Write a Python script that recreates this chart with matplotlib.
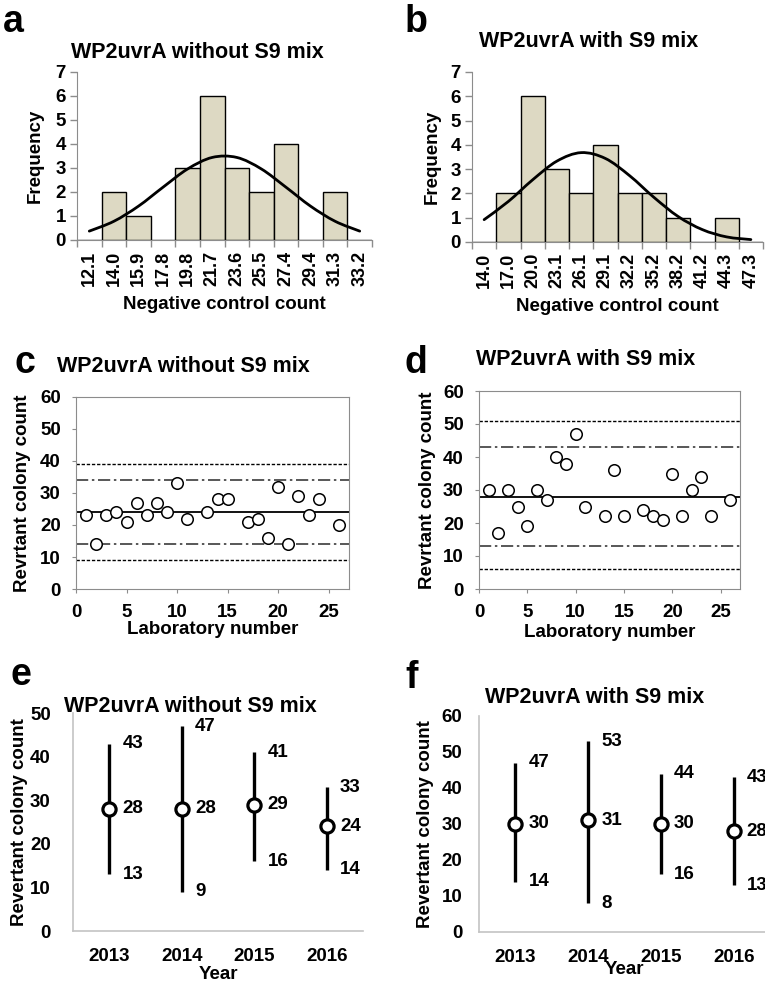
import matplotlib

matplotlib.use("Agg")
import matplotlib.pyplot as plt
from matplotlib.path import Path
from matplotlib.patches import PathPatch
from matplotlib.ticker import FixedLocator, NullFormatter, FixedFormatter

W, H = 765, 990

# --- (a) / (b) histograms of negative control counts -------------------
BINS_A = ["12.1", "14.0", "15.9", "17.8", "19.8", "21.7",
          "23.6", "25.5", "27.4", "29.4", "31.3", "33.2"]
FREQ_A = [0, 2, 1, 0, 3, 6, 3, 2, 4, 0, 2, 0]
CURVE_A = [0.37, 0.78, 1.41, 2.20, 2.96, 3.44, 3.44, 2.96, 2.20, 1.41, 0.78, 0.37]

BINS_B = ["14.0", "17.0", "20.0", "23.1", "26.1", "29.1",
          "32.2", "35.2", "38.2", "41.2", "44.3", "47.3"]
FREQ_B = [0, 2, 6, 3, 2, 4, 2, 2, 1, 0, 1, 0]
CURVE_B = [0.92, 1.67, 2.56, 3.33, 3.68, 3.44, 2.73, 1.84, 1.05, 0.51, 0.21, 0.10]

# --- (c) / (d) revertant counts by laboratory -------------------------
LABS = [1, 2, 3, 4, 5, 6, 7, 8, 9, 10, 11, 13, 14, 15, 17, 18, 19, 20, 21, 22, 23, 24, 26]
COUNT_C = [23, 14, 23, 24, 21, 27, 23, 27, 24, 33, 22, 24, 28, 28, 21, 22, 16, 32, 14, 29, 23, 28, 20]
COUNT_D = [30, 17, 30, 25, 19, 30, 27, 40, 38, 47, 25, 22, 36, 22, 24, 22, 21, 35, 22, 30, 34, 22, 27]
MEAN_C, SD2_C, SD3_C = 24, (14, 34), (9, 39)
MEAN_D, SD2_D, SD3_D = 28, (13, 43), (6, 51)

# --- (e) / (f) yearly mean and range ------------------------------------
YEARS = ["2013", "2014", "2015", "2016"]
MEAN_E = [28, 28, 29, 24]
LOW_E = [13, 9, 16, 14]
HIGH_E = [43, 47, 41, 33]
MEAN_F = [30, 31, 30, 28]
LOW_F = [14, 8, 16, 13]
HIGH_F = [47, 53, 44, 43]

plt.rcParams["font.family"] = ["Liberation Sans", "DejaVu Sans"]
plt.rcParams["font.weight"] = "bold"
plt.rcParams["axes.labelweight"] = "bold"

GRAY = "#8c8c8c"
LIGHT = "#c4c4c4"
TITLE_SIZE = 15.5
LETTER_SIZE = 27


def add_axes(fig, left, top, right, bottom):
    return fig.add_axes([left / W, 1 - bottom / H, (right - left) / W, (bottom - top) / H])


def ylabel_at(fig, ax, text, x_px, y_px, size=13.5):
    ax.set_ylabel(text, fontsize=size, va="center")
    ax.yaxis.set_label_coords(x_px / W, 1 - y_px / H, transform=fig.transFigure)


def xlabel_at(fig, ax, text, x_px, top_px, size=13.5):
    ax.set_xlabel(text, fontsize=size, va="top")
    ax.xaxis.set_label_coords(x_px / W, 1 - top_px / H, transform=fig.transFigure)


def headings(fig, title, title_xy, letter_xy):
    fig.text(title_xy[0] / W, 1 - title_xy[1] / H, title, ha="center", va="baseline",
             fontsize=TITLE_SIZE, fontweight="bold")
    fig.text(letter_xy[0] / W, 1 - letter_xy[1] / H, letter_xy[2], ha="left", va="baseline",
             fontsize=LETTER_SIZE, fontweight="bold")


def smooth_curve(ax, xs, ys, **kw):
    # Excel-like smoothed line: Catmull-Rom segments drawn as cubic Beziers
    pts = list(zip(xs, ys))
    verts = [pts[0]]
    codes = [Path.MOVETO]
    n = len(pts)
    for i in range(n - 1):
        p0 = pts[max(i - 1, 0)]
        p1 = pts[i]
        p2 = pts[i + 1]
        p3 = pts[min(i + 2, n - 1)]
        c1 = (p1[0] + (p2[0] - p0[0]) / 6, p1[1] + (p2[1] - p0[1]) / 6)
        c2 = (p2[0] - (p3[0] - p1[0]) / 6, p2[1] - (p3[1] - p1[1]) / 6)
        verts += [c1, c2, p2]
        codes += [Path.CURVE4] * 3
    ax.add_patch(PathPatch(Path(verts, codes), fill=False, **kw))


def histogram(fig, box, bins, freq, curve, title, title_xy, letter_xy, ylab_x, xlab_top):
    ax = add_axes(fig, *box)
    x = list(range(len(bins)))
    ax.bar(x, freq, width=1.0, color="#ddd9c3", edgecolor="black", linewidth=1.0, zorder=2)
    smooth_curve(ax, x, curve, color="black", linewidth=2.0, zorder=3, capstyle="round")
    ax.set_xlim(-0.5, len(bins) - 0.5)
    ax.set_ylim(0, 7)
    ax.set_yticks(range(0, 8))
    ax.xaxis.set_major_locator(FixedLocator([i - 0.5 for i in range(len(bins) + 1)]))
    ax.xaxis.set_major_formatter(NullFormatter())
    ax.xaxis.set_minor_locator(FixedLocator(x))
    ax.xaxis.set_minor_formatter(FixedFormatter(bins))
    ax.tick_params(axis="x", which="major", length=5, color=GRAY, width=1)
    ax.tick_params(axis="x", which="minor", length=0, pad=8, labelsize=13, labelrotation=90)
    ax.tick_params(axis="y", length=5, color=GRAY, width=1, labelsize=13.5, pad=3)
    for s in ("top", "right"):
        ax.spines[s].set_visible(False)
    for s in ("left", "bottom"):
        ax.spines[s].set_color(GRAY)
    headings(fig, title, title_xy, letter_xy)
    ylabel_at(fig, ax, "Frequency", ylab_x, (box[1] + box[3]) / 2)
    xlabel_at(fig, ax, "Negative control count", (box[0] + box[2]) / 2, xlab_top)
    return ax


def lab_scatter(fig, box, counts, mean, sd2, sd3, title, title_xy, letter_xy, ylab_x, xlab_top):
    ax = add_axes(fig, *box)
    ax.axhline(mean, color="black", linewidth=1.3, zorder=1)
    for v in sd2:
        ax.axhline(v, color="#2a2a2a", linewidth=1.1, linestyle=(0, (8, 2.4, 1.6, 2.4)), zorder=1)
    for v in sd3:
        ax.axhline(v, color="black", linewidth=1.0, linestyle=(0, (2.4, 1.3)), zorder=1)
    ax.plot(LABS, counts, linestyle="none", marker="o", markersize=8.3,
            markerfacecolor="white", markeredgecolor="black", markeredgewidth=1.1, zorder=3)
    ax.set_xlim(0, 27)
    ax.set_ylim(0, 60)
    ax.set_xticks(range(0, 26, 5))
    ax.set_yticks(range(0, 61, 10))
    ax.tick_params(length=3, color=GRAY, labelsize=13.5, pad=8)
    for s in ax.spines.values():
        s.set_color(GRAY)
    headings(fig, title, title_xy, letter_xy)
    ylabel_at(fig, ax, "Revrtant colony count", ylab_x, (box[1] + box[3]) / 2)
    xlabel_at(fig, ax, "Laboratory number", (box[0] + box[2]) / 2, xlab_top)
    return ax


def year_range(fig, box, means, lows, highs, ymax, title, title_xy, letter_xy, ylab_x, xlab_top, pad):
    ax = add_axes(fig, *box)
    x = list(range(len(YEARS)))
    ax.vlines(x, lows, highs, color="black", linewidth=2.4, zorder=2)
    ax.plot(x, means, linestyle="none", marker="o", markersize=9.5,
            markerfacecolor="white", markeredgecolor="black", markeredgewidth=2.3, zorder=3)
    for xi, m, lo, hi in zip(x, means, lows, highs):
        for v in (hi, m, lo):
            ax.annotate(str(v), (xi, v), xytext=(9.5, 0), textcoords="offset points",
                        ha="left", va="center", fontsize=13.5, fontweight="bold",
                        annotation_clip=False)
    ax.set_xlim(-0.5, len(YEARS) - 0.5)
    ax.set_ylim(0, ymax)
    ax.set_xticks(x)
    ax.set_xticklabels(YEARS)
    ax.set_yticks(range(0, ymax + 1, 10))
    ax.tick_params(axis="x", length=0, labelsize=13.5, pad=12)
    ax.tick_params(axis="y", length=0, labelsize=13.5, pad=pad)
    for s in ("top", "right"):
        ax.spines[s].set_visible(False)
    for s in ("left", "bottom"):
        ax.spines[s].set_color(LIGHT)
        ax.spines[s].set_linewidth(1.2)
    headings(fig, title, title_xy, letter_xy)
    ylabel_at(fig, ax, "Revertant colony count", ylab_x, (box[1] + box[3]) / 2)
    xlabel_at(fig, ax, "Year", (box[0] + box[2]) / 2, xlab_top)
    return ax


fig = plt.figure(figsize=(W / 100, H / 100), dpi=100)

histogram(fig, (77, 72, 372, 240), BINS_A, FREQ_A, CURVE_A,
          "WP2uvrA without S9 mix", (197, 58), (3, 32, "a"), 35, 296)
histogram(fig, (472, 72, 763, 242), BINS_B, FREQ_B, CURVE_B,
          "WP2uvrA with S9 mix", (589, 47), (405, 32, "b"), 432, 298)

lab_scatter(fig, (76, 397, 349, 589), COUNT_C, MEAN_C, SD2_C, SD3_C,
            "WP2uvrA without S9 mix", (183, 372), (14, 373, "c"), 23, 621)
lab_scatter(fig, (479, 391, 740, 589), COUNT_D, MEAN_D, SD2_D, SD3_D,
            "WP2uvrA with S9 mix", (586, 365), (404, 373, "d"), 427, 624)

year_range(fig, (73, 713, 363, 931), MEAN_E, LOW_E, HIGH_E, 50,
           "WP2uvrA without S9 mix", (190, 712), (10, 685, "e"), 20, 966, 16)
year_range(fig, (479, 716, 770, 932), MEAN_F, LOW_F, HIGH_F, 60,
           "WP2uvrA with S9 mix", (595, 703), (405, 688, "f"), 425, 961, 12)

fig.savefig("out.png", dpi=100)
